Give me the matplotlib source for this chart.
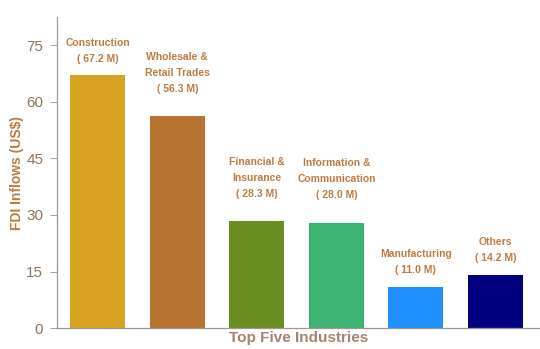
import matplotlib.pyplot as plt
import numpy as np

plt.rcParams['font.family'] = ['Liberation Sans', 'DejaVu Sans']

industries = ["Construction", "Wholesale &\nRetail Trades", "Financial &\nInsurance",
              "Information &\nCommunication", "Manufacturing", "Others"]
inflows = [67.2, 56.3, 28.3, 28.0, 11.0, 14.2]
bar_colors = ["#D6A21F", "#B87333", "#6B8E23", "#3CB371", "#1E90FF", "#000080"]
y_ticks = [0, 15, 30, 45, 60, 75]

label_color = "#C07A40"
tick_color = "#8E7458"

fig = plt.figure(figsize=(5.4, 3.49), dpi=100)
ax = fig.add_axes([0.106, 0.06, 0.894, 0.891])

x = np.arange(len(industries))
ax.bar(x, inflows, width=0.69, color=bar_colors)

# value labels above each bar, taller labels sit a bit higher
for i, (name, val) in enumerate(zip(industries, inflows)):
    lines = name.count("\n") + 1
    pad = 8 if lines == 1 else 16
    ax.annotate(f"{name}\n( {val:.1f} M)", xy=(i, val), xytext=(0, pad),
                textcoords="offset points", ha="center", va="bottom",
                fontsize=7.5, fontweight="bold", color=label_color, linespacing=1.75)

ax.set_xlim(-0.51, 5.56)
ax.set_ylim(0, 82.5)
ax.set_xticks([])
ax.set_yticks(y_ticks)
ax.tick_params(axis="y", labelsize=11, colors=tick_color, length=5, width=0.8,
               color="#B0A8A0", pad=5)

for side in ["top", "right"]:
    ax.spines[side].set_visible(False)
for side in ["left", "bottom"]:
    ax.spines[side].set_color("#A09890")
    ax.spines[side].set_linewidth(0.9)

ax.set_ylabel("FDI Inflows (US$)", fontsize=10, fontweight="bold", color=label_color, labelpad=2)
ax.set_xlabel("Top Five Industries", fontsize=11, fontweight="bold", color="#A88270", labelpad=2)

fig.savefig("out.png", dpi=100)
